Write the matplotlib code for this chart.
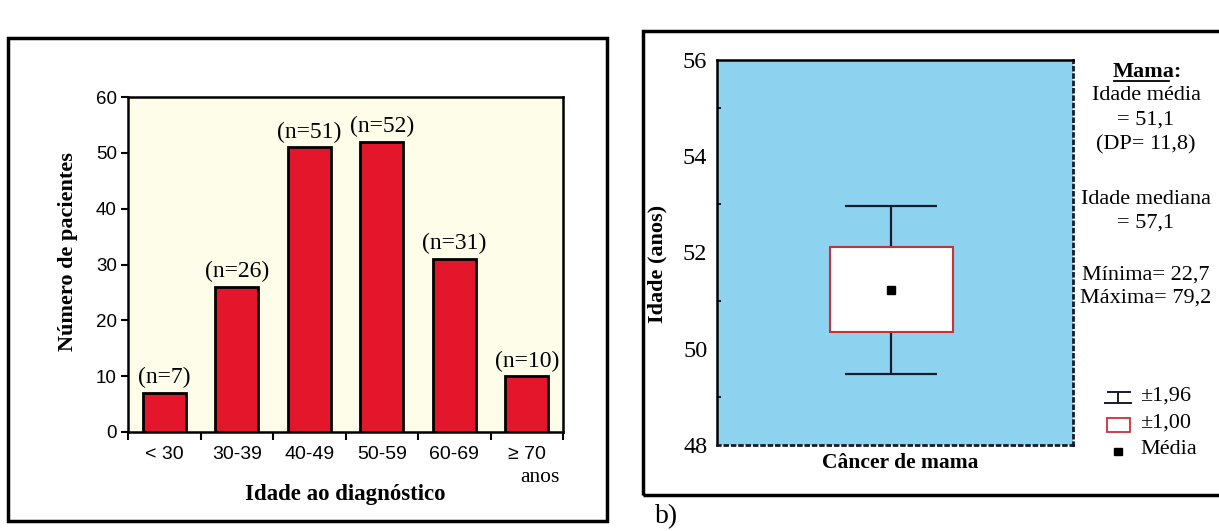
import numpy as np
import matplotlib
matplotlib.use('Agg')
import matplotlib.pyplot as plt
from matplotlib.patches import Rectangle
from matplotlib.lines import Line2D

# data
faixas = ['< 30', '30-39', '40-49', '50-59', '60-69', '\u2265 70']
pacientes = [7, 26, 51, 52, 31, 10]

# box plot summary (idade, cancer de mama)
media = 51.22
caixa_min, caixa_max = 50.35, 52.12     # +-1,00
bigode_min, bigode_max = 49.48, 52.97   # +-1,96

resumo = ['Idade m\u00e9dia', '= 51,1', '(DP= 11,8)',
          'Idade mediana', '= 57,1',
          'M\u00ednima= 22,7', 'M\u00e1xima= 79,2']
resumo_y = [96, 120, 145, 200, 223, 275, 298]   # pixel rows of the lines

W, H = 1219, 531
serif = 'Liberation Serif'
sans = 'Liberation Sans'

def fx(x):
    return x / W

def fy(y):
    return 1 - y / H

fig = plt.figure(figsize=(W / 100, H / 100), dpi=100)
fig.patch.set_facecolor('white')

# outer frames
fig.add_artist(Rectangle((fx(8), fy(521)), fx(607) - fx(8), fy(38) - fy(521),
                         transform=fig.transFigure, fill=False, lw=2.5, ec='black'))
fig.add_artist(Rectangle((fx(643), fy(495)), fx(1240) - fx(643), fy(31) - fy(495),
                         transform=fig.transFigure, fill=False, lw=2.5, ec='black',
                         clip_on=False))

# ---- left: bar chart
ax1 = fig.add_axes([fx(128), fy(432), fx(563) - fx(128), fy(97) - fy(432)])
ax1.set_facecolor('#fdfdea')
x = np.arange(len(faixas))
ax1.bar(x, pacientes, width=0.59, color='#e3162b', edgecolor='black', linewidth=2)
for xi, n in zip(x, pacientes):
    ax1.text(xi, n + 0.8, f'(n={n})', ha='center', va='bottom', family=serif, fontsize=17)
ax1.set_xlim(-0.5, len(faixas) - 0.5)
ax1.set_ylim(0, 60)
ax1.set_yticks(range(0, 61, 10))
ax1.set_xticks(np.arange(-0.5, len(faixas), 1))
ax1.set_xticklabels([])
ax1.set_xticks(x, minor=True)
ax1.set_xticklabels(faixas, minor=True, family=sans, fontsize=14)
ax1.tick_params(axis='x', which='major', length=6, width=1.5, direction='out')
ax1.tick_params(axis='x', which='minor', length=0, pad=10)
ax1.tick_params(axis='y', length=5, width=1.5, direction='out', pad=3)
for lab in ax1.get_yticklabels():
    lab.set_family(sans)
    lab.set_fontsize(13.5)
for s in ax1.spines.values():
    s.set_linewidth(1.8)
ax1.set_xlabel('Idade ao diagn\u00f3stico', family=serif, fontweight='bold', fontsize=16.5)
ax1.xaxis.set_label_coords(0.5, -0.155)
ax1.set_ylabel('N\u00famero de pacientes', family=serif, fontweight='bold', fontsize=16)
ax1.yaxis.set_label_coords(-0.115, 0.54)
fig.text(fx(540), fy(478), 'anos', family=serif, fontsize=15.5, ha='center', va='center')

# ---- right: box plot
ax2 = fig.add_axes([fx(717), fy(445), fx(1073) - fx(717), fy(60) - fy(445)])
ax2.set_facecolor('#8dd3f0')
ax2.set_xlim(0, 1)
ax2.set_ylim(48, 56)
xc = 0.49
ax2.errorbar([xc], [media], yerr=[[media - bigode_min], [bigode_max - media]],
             fmt='none', ecolor='#1a1a2a', elinewidth=1.6, capsize=33, capthick=1.6, zorder=2)
ax2.bar([xc], [caixa_max - caixa_min], bottom=[caixa_min], width=0.346,
        color='white', edgecolor='#c8303a', linewidth=1.5, zorder=3)
ax2.plot([xc], [media], 's', color='black', markersize=6, zorder=4)
ax2.set_xticks([])
ax2.set_yticks(range(48, 57, 2))
ax2.set_yticks(range(49, 56, 2), minor=True)
ax2.tick_params(axis='y', which='major', length=0, pad=7)
ax2.tick_params(axis='y', which='minor', length=3, direction='in', width=1.2)
for lab in ax2.get_yticklabels():
    lab.set_family(serif)
    lab.set_fontsize(17.5)
ax2.spines['left'].set_linewidth(1.8)
ax2.spines['top'].set_linewidth(1.8)
for side in ['right', 'bottom']:
    ax2.spines[side].set_linestyle(':')
    ax2.spines[side].set_linewidth(2)
    ax2.spines[side].set_color('#1a1a2a')
ax2.set_xlabel('C\u00e2ncer de mama', family=serif, fontweight='bold', fontsize=15.5)
ax2.xaxis.set_label_coords(0.514, -0.02)
ax2.set_ylabel('Idade (anos)', family=serif, fontweight='bold', fontsize=16)
ax2.yaxis.set_label_coords(-0.138, 0.47)

# summary text
fig.text(fx(1147), fy(72), 'Mama:', family=serif, fontweight='bold', fontsize=16,
         ha='center', va='center')
fig.add_artist(Line2D([fx(1114), fx(1169)], [fy(81), fy(81)], transform=fig.transFigure,
                      color='black', lw=1.3))
for linha, yy in zip(resumo, resumo_y):
    fig.text(fx(1146), fy(yy), linha, family=serif, fontsize=16, ha='center', va='center')

# legend
tf = fig.transFigure
fig.add_artist(Line2D([fx(1108), fx(1130)], [fy(392), fy(392)], transform=tf, color='#1a1a2a', lw=1.4))
fig.add_artist(Line2D([fx(1118), fx(1118)], [fy(392), fy(403)], transform=tf, color='#1a1a2a', lw=1.4))
fig.add_artist(Line2D([fx(1105), fx(1131)], [fy(403), fy(403)], transform=tf, color='#1a1a2a', lw=1.4))
fig.add_artist(Rectangle((fx(1107), fy(432)), fx(1130) - fx(1107), fy(418) - fy(432),
                         transform=tf, fc='white', ec='#c8303a', lw=1.3))
fig.add_artist(Rectangle((fx(1114), fy(455)), fx(1122) - fx(1114), fy(448) - fy(455),
                         transform=tf, fc='black', ec='black'))
fig.text(fx(1140), fy(396), '\u00b11,96', family=serif, fontsize=16, va='center')
fig.text(fx(1140), fy(423), '\u00b11,00', family=serif, fontsize=16, va='center')
fig.text(fx(1140), fy(450), 'M\u00e9dia', family=serif, fontsize=16, va='center')

fig.text(fx(655), fy(504), 'b)', family=serif, fontsize=20, va='top')

fig.savefig('out.png', dpi=100)
